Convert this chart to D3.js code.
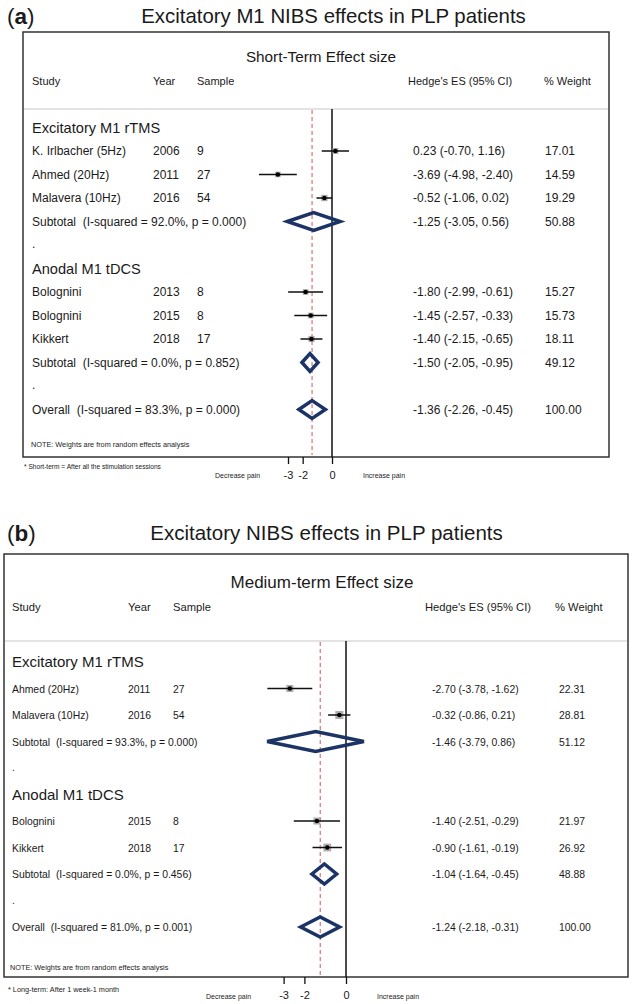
<!DOCTYPE html>
<html><head><meta charset="utf-8">
<script src="https://cdn.jsdelivr.net/npm/d3@7"></script>
<style>
html,body{margin:0;padding:0;background:#fff;}
text{font-family:"Liberation Sans",Arial,sans-serif;fill:#1a1a1a;white-space:pre;}
</style></head>
<body><svg id="chart" width="633" height="1004"></svg>
<script>
// ---------- Panel (a): short-term ----------
const groupsA = ["Excitatory M1 rTMS", "Anodal M1 tDCS"];
const studyGroupA = [0, 0, 0, 1, 1, 1];
const studiesA = ["K. Irlbacher (5Hz)", "Ahmed (20Hz)", "Malavera (10Hz)", "Bolognini", "Bolognini", "Kikkert"];
const yearsA = [2006, 2011, 2016, 2013, 2015, 2018];
const samplesA = [9, 27, 54, 8, 8, 17];
const esA = [0.23, -3.69, -0.52, -1.80, -1.45, -1.40];
const loA = [-0.70, -4.98, -1.06, -2.99, -2.57, -2.15];
const hiA = [1.16, -2.40, 0.02, -0.61, -0.33, -0.65];
const weightA = [17.01, 14.59, 19.29, 15.27, 15.73, 18.11];
const subEsA = [-1.25, -1.50];
const subLoA = [-3.05, -2.05];
const subHiA = [0.56, -0.95];
const subWeightA = [50.88, 49.12];
const subI2A = ["92.0%", "0.0%"];
const subPA = ["0.000", "0.852"];
const overallA = [-1.36, -2.26, -0.45];
const overallStatA = ["83.3%", "0.000"];

// ---------- Panel (b): medium-term ----------
const groupsB = ["Excitatory M1 rTMS", "Anodal M1 tDCS"];
const studyGroupB = [0, 0, 1, 1];
const studiesB = ["Ahmed (20Hz)", "Malavera (10Hz)", "Bolognini", "Kikkert"];
const yearsB = [2011, 2016, 2015, 2018];
const samplesB = [27, 54, 8, 17];
const esB = [-2.70, -0.32, -1.40, -0.90];
const loB = [-3.78, -0.86, -2.51, -1.61];
const hiB = [-1.62, 0.21, -0.29, -0.19];
const weightB = [22.31, 28.81, 21.97, 26.92];
const subEsB = [-1.46, -1.04];
const subLoB = [-3.79, -1.64];
const subHiB = [0.86, -0.45];
const subWeightB = [51.12, 48.88];
const subI2B = ["93.3%", "0.0%"];
const subPB = ["0.000", "0.456"];
const overallB = [-1.24, -2.18, -0.31];
const overallStatB = ["81.0%", "0.001"];

const tickValues = [-3, -2, 0];
const tickLabels = ["-3", "-2", "0"];

const f2 = d => d3.format(".2f")(d).replace("\u2212", "-");
const svg = d3.select("#chart");
const NAVY = "#1c3366";

function buildRows(groups, studyGroup, studies, years, samples, es, lo, hi, w, sEs, sLo, sHi, sW, sI2, sP, ov, ovStat) {
  const rows = [];
  groups.forEach((g, gi) => {
    rows.push({type: "group", label: g});
    studies.forEach((s, i) => {
      if (studyGroup[i] === gi) rows.push({type: "study", label: s, year: years[i], n: samples[i], es: es[i], lo: lo[i], hi: hi[i], w: w[i]});
    });
    rows.push({type: "sub", label: `Subtotal  (I-squared = ${sI2[gi]}, p = ${sP[gi]})`, es: sEs[gi], lo: sLo[gi], hi: sHi[gi], w: sW[gi]});
    rows.push({type: "dot"});
  });
  rows.push({type: "sub", label: `Overall  (I-squared = ${ovStat[0]}, p = ${ovStat[1]})`, es: ov[0], lo: ov[1], hi: ov[2], w: 100});
  return rows;
}

function drawPanel(cfg, rows) {
  const g = svg.append("g");
  const lt = g.append("text").attr("x", 7).attr("y", cfg.titleY + 1).attr("font-size", 22.5);
  lt.append("tspan").text("(");
  lt.append("tspan").attr("font-weight", "bold").text(cfg.letter);
  lt.append("tspan").text(")");
  g.append("text").attr("x", cfg.titleX).attr("y", cfg.titleY).attr("text-anchor", "middle")
    .attr("font-size", cfg.titleSize).text(cfg.title);
  g.append("rect").attr("x", cfg.boxL).attr("y", cfg.boxT).attr("width", cfg.boxR - cfg.boxL)
    .attr("height", cfg.boxB - cfg.boxT).attr("fill", "none").attr("stroke", "#333").attr("stroke-width", 1.5);
  g.append("text").attr("x", cfg.subX).attr("y", cfg.subY).attr("text-anchor", "middle")
    .attr("font-size", cfg.subSize).text(cfg.subtitle);
  const hdr = [["Study", cfg.colStudy], ["Year", cfg.colYear], ["Sample", cfg.colSample], ["Hedge's ES (95% CI)", cfg.colHdrEs], ["% Weight", cfg.colHdrW]];
  hdr.forEach(([t, x]) => g.append("text").attr("x", x).attr("y", cfg.hdrY).attr("font-size", cfg.hdrSize).text(t));
  g.append("line").attr("x1", cfg.boxL + 1).attr("x2", cfg.boxR - 1).attr("y1", cfg.lineY).attr("y2", cfg.lineY)
    .attr("stroke", "#c8c8c8").attr("stroke-width", 1.2);

  const x = d3.scaleLinear().domain([-3, 0]).range(cfg.xRange);
  const y = d3.scaleLinear().domain([0, rows.length - 1]).range(cfg.yRange);

  const ovRow = rows[rows.length - 1];
  g.append("line").attr("x1", x(ovRow.es)).attr("x2", x(ovRow.es)).attr("y1", cfg.lineY + 1).attr("y2", cfg.boxB - 2)
    .attr("stroke", "#d0575a").attr("stroke-width", 1).attr("stroke-dasharray", "4,3");
  g.append("line").attr("x1", x(0)).attr("x2", x(0)).attr("y1", cfg.lineY).attr("y2", cfg.boxB)
    .attr("stroke", "#111").attr("stroke-width", 1.5);

  const axis = d3.axisBottom(x).tickValues(tickValues).tickSize(7)
    .tickFormat((d, i) => tickLabels[i]);
  const ax = g.append("g").attr("transform", `translate(0,${cfg.boxB})`).call(axis);
  ax.select(".domain").remove();
  ax.selectAll(".tick line").attr("stroke", "#111").attr("stroke-width", 1.3);
  ax.selectAll(".tick text").attr("font-size", 11).attr("fill", "#1a1a1a")
    .attr("font-family", "Liberation Sans, Arial, sans-serif").attr("dy", "1.05em");
  g.append("text").attr("x", cfg.decX).attr("y", cfg.painY).attr("font-size", 7).text("Decrease pain");
  g.append("text").attr("x", cfg.incX).attr("y", cfg.painY).attr("font-size", 7).text("Increase pain");
  g.append("text").attr("x", cfg.noteX).attr("y", cfg.noteY).attr("font-size", 7.3).text("NOTE: Weights are from random effects analysis");
  g.append("text").attr("x", cfg.footX).attr("y", cfg.footY).attr("font-size", cfg.footSize).text(cfg.foot);

  rows.forEach((r, i) => {
    const yy = y(i);
    if (r.type === "group") {
      g.append("text").attr("x", cfg.colStudy).attr("y", yy + 5).attr("font-size", cfg.groupSize).text(r.label);
    } else if (r.type === "dot") {
      g.append("text").attr("x", cfg.colStudy).attr("y", yy + 3).attr("font-size", cfg.rowSize).text(".");
    } else {
      g.append("text").attr("x", cfg.colStudy).attr("y", yy + 4).attr("font-size", cfg.rowSize).text(r.label);
      g.append("text").attr("x", cfg.colEs).attr("y", yy + 4).attr("font-size", cfg.rowSize)
        .text(`${f2(r.es)} (${f2(r.lo)}, ${f2(r.hi)})`);
      g.append("text").attr("x", cfg.colW).attr("y", yy + 4).attr("font-size", cfg.rowSize).text(f2(r.w));
      if (r.type === "study") {
        g.append("text").attr("x", cfg.colYear).attr("y", yy + 4).attr("font-size", cfg.rowSize).text(r.year);
        g.append("text").attr("x", cfg.colSample).attr("y", yy + 4).attr("font-size", cfg.rowSize).text(r.n);
        const s = cfg.boxK * Math.sqrt(r.w);
        g.append("rect").attr("x", x(r.es) - s / 2).attr("y", yy - s / 2).attr("width", s).attr("height", s)
          .attr("fill", "#9a9a9a").attr("opacity", 0.8);
        g.append("line").attr("x1", x(r.lo)).attr("x2", x(r.hi)).attr("y1", yy).attr("y2", yy)
          .attr("stroke", "#111").attr("stroke-width", 1.5);
        g.append("circle").attr("cx", x(r.es)).attr("cy", yy).attr("r", 2.2).attr("fill", "#000");
      } else {
        const h = cfg.diamH;
        const pts = [[x(r.lo), yy], [x(r.es), yy - h], [x(r.hi), yy], [x(r.es), yy + h]];
        g.append("path").attr("d", d3.line()(pts) + "Z").attr("fill", "none")
          .attr("stroke", NAVY).attr("stroke-width", 3.5).attr("stroke-linejoin", "miter");
      }
    }
  });
}

drawPanel({
  letter: "a", title: "Excitatory M1 NIBS effects in PLP patients", titleX: 333.5, titleY: 23, titleSize: 20.4,
  boxL: 23, boxR: 609, boxT: 32, boxB: 457,
  subtitle: "Short-Term Effect size", subX: 321, subY: 62, subSize: 15.3,
  hdrY: 85, hdrSize: 11, lineY: 109,
  colStudy: 32, colYear: 153, colSample: 197, colHdrEs: 408, colHdrW: 544, colEs: 413, colW: 545,
  rowSize: 12, groupSize: 14.6, xRange: [288, 332], yRange: [127.5, 409.5],
  decX: 215, incX: 363, painY: 478,
  noteX: 31, noteY: 447, footX: 24, footY: 469, footSize: 6.6,
  foot: "* Short-term = After all the stimulation sessions", boxK: 1.45, diamH: 9
}, buildRows(groupsA, studyGroupA, studiesA, yearsA, samplesA, esA, loA, hiA, weightA, subEsA, subLoA, subHiA, subWeightA, subI2A, subPA, overallA, overallStatA));

drawPanel({
  letter: "b", title: "Excitatory NIBS effects in PLP patients", titleX: 326.5, titleY: 540, titleSize: 20.5,
  boxL: 4, boxR: 628, boxT: 554, boxB: 977,
  subtitle: "Medium-term Effect size", subX: 322, subY: 588, subSize: 17,
  hdrY: 611, hdrSize: 11.2, lineY: 641,
  colStudy: 12, colYear: 128, colSample: 173, colHdrEs: 425, colHdrW: 555, colEs: 432, colW: 559,
  rowSize: 10.4, groupSize: 15, xRange: [283.6, 346], yRange: [662, 927],
  decX: 206, incX: 377, painY: 999,
  noteX: 10, noteY: 970, footX: 8, footY: 992, footSize: 7.3,
  foot: "* Long-term: After 1 week-1 month", boxK: 1.5, diamH: 10
}, buildRows(groupsB, studyGroupB, studiesB, yearsB, samplesB, esB, loB, hiB, weightB, subEsB, subLoB, subHiB, subWeightB, subI2B, subPB, overallB, overallStatB));
</script></body></html>
